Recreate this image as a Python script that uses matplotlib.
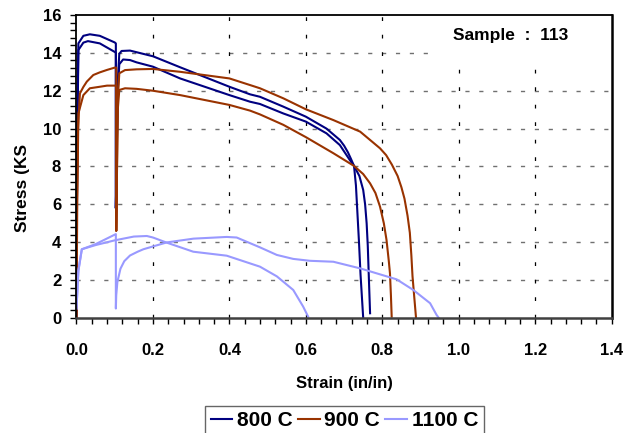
import numpy as np
import matplotlib
matplotlib.use("Agg")
import matplotlib.pyplot as plt
from matplotlib.patches import Rectangle
from matplotlib.ticker import MultipleLocator, FormatStrFormatter

plt.rcParams['font.family'] = ['Liberation Sans', 'DejaVu Sans']
plt.rcParams['font.weight'] = 'bold'

# 800 C - two specimens (strain, stress)
x_800a = [0, 0.002, 0.005, 0.018, 0.035, 0.061, 0.1, 0.103, 0.103, 0.108, 0.112, 0.118, 0.14,
          0.2, 0.271, 0.4, 0.454, 0.48, 0.541, 0.6, 0.654, 0.689, 0.7, 0.71, 0.718, 0.726,
          0.731, 0.735, 0.739, 0.743, 0.75]
y_800a = [0, 10, 14.5, 14.9, 14.98, 14.9, 14.55, 14.5, 5.8, 12.5, 13.95, 14.1, 14.12,
          13.82, 13.24, 12.21, 11.81, 11.68, 11.16, 10.63, 10.0, 9.4, 9.1, 8.75, 8.4, 8.03,
          7.0, 5.5, 4.0, 2.3, 0.0]
x_800b = [0, 0.002, 0.005, 0.018, 0.03, 0.061, 0.1, 0.103, 0.103, 0.108, 0.112, 0.122, 0.14, 0.157,
          0.2, 0.271, 0.4, 0.454, 0.48, 0.541, 0.6, 0.654, 0.689, 0.715, 0.726, 0.74, 0.75,
          0.755, 0.759, 0.762, 0.765, 0.768]
y_800b = [0, 9, 14.15, 14.54, 14.62, 14.5, 14.05, 14.0, 5.8, 12.0, 13.4, 13.65, 13.62, 13.5,
          13.27, 12.65, 11.77, 11.42, 11.3, 10.8, 10.37, 9.75, 9.13, 8.34, 8.03, 7.5, 6.76,
          6.0, 5.0, 3.8, 2.0, 0.25]

# 900 C - two specimens
x_900a = [0, 0.001, 0.004, 0.009, 0.018, 0.027, 0.044, 0.061, 0.08, 0.1, 0.104, 0.104, 0.108, 0.112,
          0.127, 0.157, 0.2, 0.271, 0.4, 0.454, 0.48, 0.541, 0.6, 0.672, 0.742, 0.768, 0.794, 0.81,
          0.825, 0.84, 0.85, 0.858, 0.866, 0.872, 0.876, 0.879, 0.884, 0.888]
y_900a = [0, 6, 10, 11.86, 12.2, 12.48, 12.83, 12.97, 13.1, 13.22, 13.22, 4.6, 11.5, 12.92,
          13.09, 13.13, 13.15, 13.0, 12.65, 12.3, 12.13, 11.6, 11.02, 10.45, 9.84, 9.4, 8.96, 8.6,
          8.1, 7.5, 6.9, 6.3, 5.4, 4.5, 3.3, 2.2, 1.0, 0.05]
x_900b = [0, 0.002, 0.005, 0.018, 0.035, 0.061, 0.08, 0.1, 0.104, 0.104, 0.108, 0.112, 0.127, 0.157,
          0.2, 0.271, 0.4, 0.454, 0.48, 0.541, 0.6, 0.672, 0.726, 0.75, 0.768, 0.782, 0.794, 0.804,
          0.811, 0.817, 0.82, 0.8225, 0.8245]
y_900b = [0, 6, 10.8, 11.77, 12.13, 12.21, 12.27, 12.27, 12.27, 4.6, 11.0, 12.04, 12.13, 12.1,
          12.0, 11.77, 11.25, 10.95, 10.75, 10.2, 9.55, 8.7, 8.03, 7.6, 7.11, 6.6, 5.88, 5.0,
          4.12, 3.0, 2.36, 1.2, 0.07]

# 1100 C - two specimens
x_1100a = [0, 0.005, 0.014, 0.05, 0.1, 0.15, 0.184, 0.2, 0.236, 0.3055, 0.393, 0.48, 0.524,
           0.567, 0.593, 0.606]
y_1100a = [0.5, 2.5, 3.63, 3.85, 4.1, 4.3, 4.33, 4.25, 3.98, 3.5, 3.29, 2.71, 2.2,
           1.48, 0.6, 0.07]
x_1100b = [0, 0.005, 0.014, 0.05, 0.103, 0.103, 0.104, 0.107, 0.115, 0.125, 0.14, 0.16, 0.175,
           0.236, 0.306, 0.393, 0.419, 0.48, 0.524, 0.567, 0.611, 0.672, 0.742, 0.8375, 0.881,
           0.925, 0.942, 0.948]
y_1100b = [0.5, 2.5, 3.63, 3.9, 4.43, 0.5, 1.2, 1.9, 2.6, 3.0, 3.3, 3.5, 3.63,
           3.99, 4.19, 4.28, 4.25, 3.73, 3.33, 3.12, 3.02, 2.97, 2.62, 2.04, 1.48,
           0.78, 0.16, 0.0]

labels = ['800 C', '900 C', '1100 C']
colors = ['#000080', '#993300', '#9999FF']

fig = plt.figure(figsize=(6.31, 4.33), dpi=100)
ax = fig.add_axes([0.1212, 0.2656, 0.8482, 0.6998])

# gridlines
for yv in np.arange(2, 16, 2):
    ax.axhline(yv, color='#707070', lw=1.0, ls=(0, (3, 7)), zorder=0)
for xv in np.arange(0.2, 1.3, 0.2):
    ax.axvline(xv, color='black', lw=0.9, ls=(0, (3, 11)), zorder=0)

# white panel behind the sample label (hides gridlines there)
ax.add_patch(Rectangle((0.674, 0.851), 0.326, 0.149, transform=ax.transAxes,
                       facecolor='white', edgecolor='none', zorder=1))

ax.plot(x_800a, y_800a, color=colors[0], lw=1.5, label=labels[0], zorder=2)
ax.plot(x_800b, y_800b, color=colors[0], lw=1.5, zorder=2)
ax.plot(x_900a, y_900a, color=colors[1], lw=1.5, label=labels[1], zorder=2)
ax.plot(x_900b, y_900b, color=colors[1], lw=1.5, zorder=2)
ax.plot(x_1100a, y_1100a, color=colors[2], lw=1.5, label=labels[2], zorder=2)
ax.plot(x_1100b, y_1100b, color=colors[2], lw=1.5, zorder=2)

ax.set_xlim(0, 1.4)
ax.set_ylim(0, 16)
ax.xaxis.set_major_locator(MultipleLocator(0.2))
ax.xaxis.set_minor_locator(MultipleLocator(0.04))
ax.yaxis.set_major_locator(MultipleLocator(2))
ax.yaxis.set_minor_locator(MultipleLocator(0.4))
ax.xaxis.set_major_formatter(FormatStrFormatter('%.1f'))
ax.tick_params(axis='both', which='both', direction='out', length=4, width=1, color='black')
ax.tick_params(axis='x', which='major', labelsize=12, pad=14)
ax.tick_params(axis='y', which='major', labelsize=12, pad=7)

for s in ['left', 'top', 'right']:
    ax.spines[s].set_color('black')
    ax.spines[s].set_linewidth(1.3)
ax.spines['right'].set_linewidth(1.8)
ax.spines['bottom'].set_color('#404040')
ax.spines['bottom'].set_linewidth(1.8)

ax.set_xlabel('Strain (in/in)', fontsize=12, fontweight='bold', labelpad=13)
fig.text(0.036, 0.565, 'Stress (KS', rotation=90, fontsize=12.5, fontweight='bold',
         ha='center', va='center')

ax.text(0.985, 14.9, 'Sample  :  113', fontsize=12.5, fontweight='bold', va='center', ha='left',
        zorder=3)

leg = fig.legend(loc='upper center', bbox_to_anchor=(0.5458, 0.0624), ncol=3, frameon=True,
                 fancybox=False, handlelength=1.05, handletextpad=0.22, columnspacing=0.25,
                 borderpad=0.25, borderaxespad=0, prop={'size': 15, 'weight': 'bold'})
leg.get_frame().set_edgecolor('#404040')
leg.get_frame().set_linewidth(1.0)

fig.savefig('out.png', dpi=100)
